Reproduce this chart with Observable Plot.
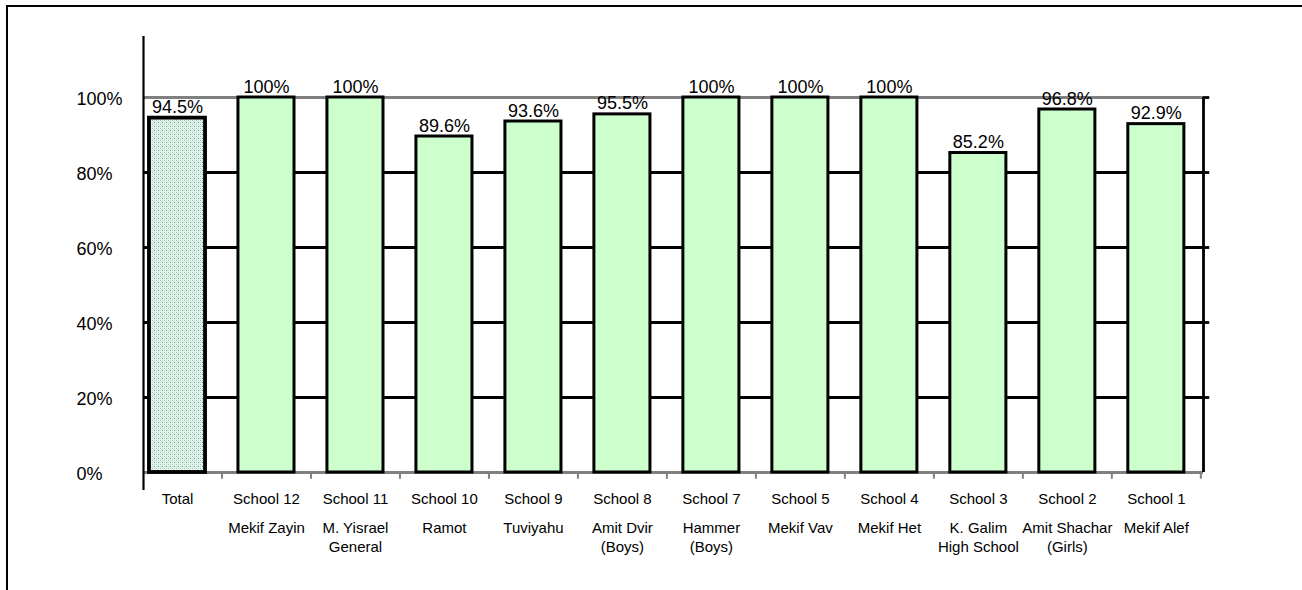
<!DOCTYPE html>
<html>
<head>
<meta charset="utf-8">
<script src="https://cdn.jsdelivr.net/npm/d3@7"></script>
<script src="https://cdn.jsdelivr.net/npm/@observablehq/plot@0.6"></script>
<style>
  html, body { margin: 0; padding: 0; background: #fff; width: 1302px; height: 590px; overflow: hidden; }
  #frame { position: absolute; left: 6px; top: 5px; width: 1400px; height: 700px; border-top: 2px solid #000; border-left: 2px solid #000; }
  #chart { position: absolute; left: 0; top: 0; }
</style>
</head>
<body>
<div id="frame"></div>
<div id="chart"></div>
<script>
// ---- data ----
const categories = ["Total", "School 12", "School 11", "School 10", "School 9", "School 8", "School 7", "School 5", "School 4", "School 3", "School 2", "School 1"];
const schoolNames = ["", "Mekif Zayin", "M. Yisrael\nGeneral", "Ramot", "Tuviyahu", "Amit Dvir\n(Boys)", "Hammer\n(Boys)", "Mekif Vav", "Mekif Het", "K. Galim\nHigh School", "Amit Shachar\n(Girls)", "Mekif Alef"];
const values = [0.945, 1.0, 1.0, 0.896, 0.936, 0.955, 1.0, 1.0, 1.0, 0.852, 0.968, 0.929];
const yTicks = [0, 0.2, 0.4, 0.6, 0.8, 1.0];

const rows = categories.map((c, i) => ({i, category: c, name: schoolNames[i], value: values[i]}));
const totalRows = rows.filter(d => d.i === 0);
const schoolRows = rows.filter(d => d.i !== 0);

const xDom = [-0.382, 11.53];
const yDom = [-0.048, 1.1627];
const half = 0.315;
const font = "'Liberation Sans', Arial, Helvetica, sans-serif";
const pct = v => (+(v * 100).toFixed(1)) + "%";

const chart = Plot.plot({
  width: 1302,
  height: 590,
  marginLeft: 143,
  marginRight: 99,
  marginTop: 36,
  marginBottom: 100,
  x: {type: "linear", domain: xDom, axis: null},
  y: {type: "linear", domain: yDom, axis: null},
  style: {fontFamily: font, background: "transparent", overflow: "visible"},
  marks: [
    // gridlines
    Plot.ruleY(yTicks.filter(v => v > 0 && v < 1), {x1: xDom[0], x2: xDom[1], stroke: "#000", strokeWidth: 2.8}),
    // right-side ticks
    Plot.ruleY(yTicks.filter(v => v > 0), {x1: xDom[1], x2: xDom[1] + 0.07, stroke: "#000", strokeWidth: 2.8}),
    // top (100%) line
    Plot.ruleY([1], {x1: xDom[0], x2: xDom[1], stroke: "#808080", strokeWidth: 2.8}),
    // baseline
    Plot.ruleY([0], {x1: xDom[0], x2: xDom[1], stroke: "#808080", strokeWidth: 3}),
    // category ticks
    Plot.ruleX(rows.map(d => d.i + 0.5), {y1: 0, y2: -0.018, stroke: "#808080", strokeWidth: 2}),
    // right vertical axis line
    Plot.ruleX([xDom[1]], {y1: 0, y2: 1, stroke: "#000", strokeWidth: 2.8}),
    // left vertical axis line
    Plot.ruleX([xDom[0]], {stroke: "#000", strokeWidth: 2.2}),
    // bars
    Plot.rectY(schoolRows, {x1: d => d.i - half, x2: d => d.i + half, y1: 0, y2: "value", fill: "#CCFFCC", stroke: "#000", strokeWidth: 3}),
    Plot.rectY(totalRows, {x1: d => d.i - half, x2: d => d.i + half, y1: 0, y2: "value", fill: "url(#dots)", stroke: "#000", strokeWidth: 3.8}),
    // value labels
    Plot.text(rows, {x: "i", y: "value", text: d => pct(d.value), lineAnchor: "bottom", dy: -5, fontSize: 18, fill: "#000"}),
    // y labels
    Plot.text(yTicks, {x: xDom[0], y: d => d, text: d => Math.round(d * 100) + "%", textAnchor: "start", dx: -67, dy: 2, fontSize: 18, fill: "#000"}),
    // category labels line 1
    Plot.text(rows, {x: "i", text: "category", frameAnchor: "bottom", lineAnchor: "top", dy: 3, fontSize: 15, fill: "#000"}),
    // category labels line 2
    Plot.text(rows, {x: "i", text: "name", frameAnchor: "bottom", lineAnchor: "top", dy: 29, lineHeight: 1.27, fontSize: 15, fill: "#000"})
  ]
});

d3.select(chart).insert("defs", ":first-child").html(`
  <pattern id="dots" width="4" height="4" patternUnits="userSpaceOnUse">
    <rect width="4" height="4" fill="#e9f4ef"></rect>
    <rect x="0" y="0" width="1" height="1" fill="#94cdb6"></rect>
    <rect x="2" y="0" width="1" height="1" fill="#bfe2d3"></rect>
    <rect x="0" y="2" width="1" height="1" fill="#bfe2d3"></rect>
    <rect x="2" y="2" width="1" height="1" fill="#4f9e82"></rect>
    <rect x="1" y="1" width="1" height="1" fill="#d2ebe0"></rect>
    <rect x="3" y="3" width="1" height="1" fill="#d2ebe0"></rect>
  </pattern>`);

document.getElementById("chart").appendChild(chart);
</script>
</body>
</html>
